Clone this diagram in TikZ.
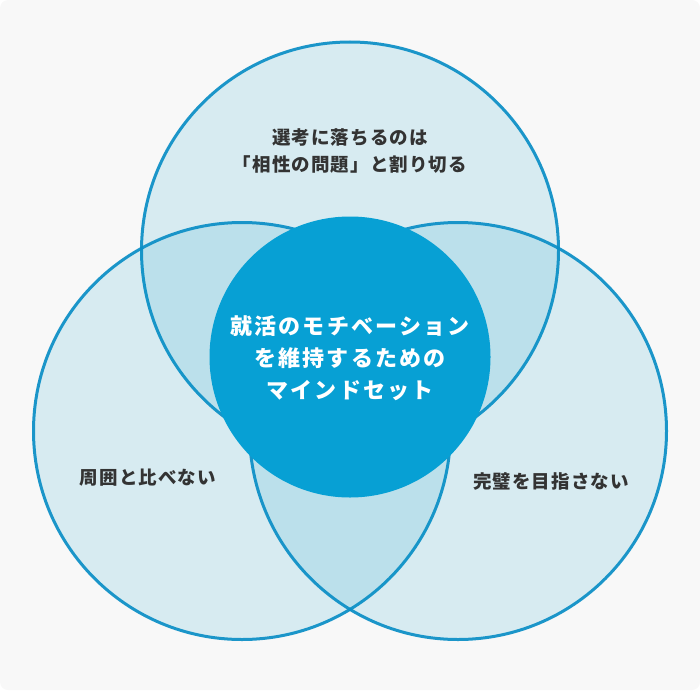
\documentclass[tikz,border=0pt]{standalone}
\usepackage{fontspec}
\setmainfont{Noto Sans CJK JP}
\begin{document}
\begin{tikzpicture}[x=1pt,y=-1pt]
\definecolor{bg}{HTML}{F8F8F8}
\definecolor{ring}{HTML}{0A8EC6}
\definecolor{tint}{HTML}{0096C8}
\definecolor{core}{HTML}{07A0D4}
\definecolor{ink}{HTML}{333333}
\tikzset{
  venn/.style={circle, minimum size=417pt, inner sep=0pt, fill=tint, fill opacity=0.13, draw=ring, draw opacity=0.92, line width=3pt},
  corecircle/.style={circle, minimum size=281pt, inner sep=0pt, fill=core},
  label/.style={text=ink, align=center, font=\fontsize{18.5}{27}\selectfont\bfseries\addfontfeatures{LetterSpace=6}},
  corelabel/.style={text=white, align=center, font=\fontsize{22}{32}\selectfont\bfseries\addfontfeatures{LetterSpace=10}}
}
\fill[bg, rounded corners=8pt] (0,0) rectangle (700,690);
\node[venn] (top) at (350,250.5) {};
\node[venn] (left) at (242,431) {};
\node[venn] (right) at (458,431) {};
\node[corecircle] (core) at (350,357) {};
\node[label] (ttop) at (350,151.5) {選考に落ちるのは\\「相性の問題」と割り切る};
\node[label] (tleft) at (148,478) {周囲と比べない};
\node[label] (tright) at (551,481) {完璧を目指さない};
\node[corelabel] (tcore) at (350,358) {就活のモチベーション\\を維持するための\\マインドセット};
\end{tikzpicture}
\end{document}
